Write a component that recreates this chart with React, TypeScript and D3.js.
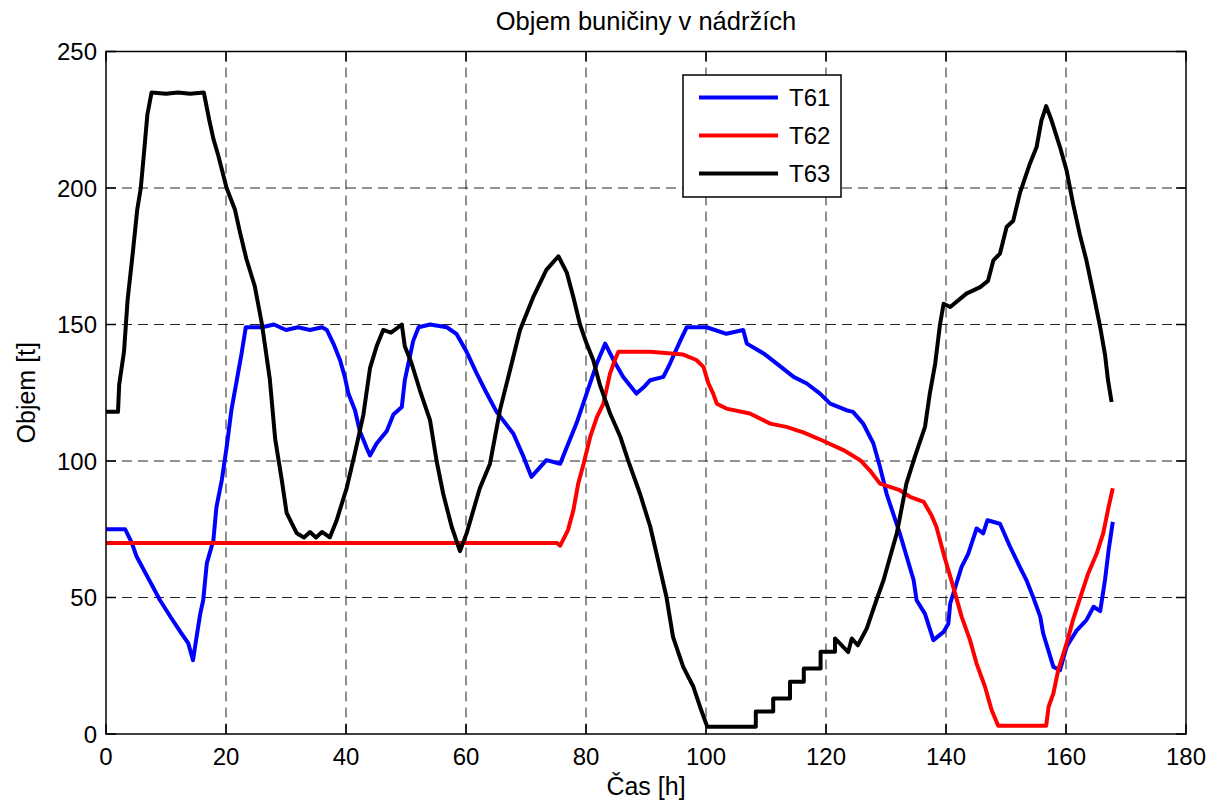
import React from "react";
import * as d3 from "d3";

// volume of pulp in tanks T61, T62, T63 over one week [h, t]
const t61: [number, number][] = [
  [0, 75], [3.2, 75], [4.3, 70], [5.1, 65], [7.3, 56], [9, 49], [10.9, 42.4], [12.6, 36.8],
  [13.7, 33.3], [14.5, 27], [15.1, 35.6], [15.7, 44], [16.2, 49], [16.8, 62.5], [17.9, 71],
  [18.4, 83], [19.3, 93], [20.1, 105], [20.9, 118.6], [21.8, 129.6], [22.6, 139.4], [23.3, 149],
  [26, 149], [28, 150], [30, 148], [32, 149], [34, 148], [36, 149], [36.8, 148], [37.9, 143],
  [39, 137], [39.8, 130.8], [40.4, 124.7], [41.5, 118.6], [42.3, 111], [43.4, 105], [44, 102],
  [45.1, 106.4], [46.8, 111], [47.9, 117], [49.3, 119.8], [49.8, 129.6], [50.4, 135.7],
  [51.2, 144], [52.1, 149], [54, 150], [56.8, 149], [58.4, 146.6], [60.1, 140], [61.8, 132],
  [63.4, 125], [65.1, 118], [67.9, 110], [69.6, 101.5], [70.9, 94.2], [73.4, 100.3], [75.7, 99],
  [76.8, 105], [78.4, 113.7], [80.1, 124.7], [81.8, 135.7], [83.2, 143], [84.6, 136.9],
  [86.2, 130.8], [88.4, 124.7], [89.6, 127], [90.7, 129.6], [92.9, 130.8], [94, 135.7],
  [95.7, 144], [96.8, 149], [100.1, 149], [103.4, 146.6], [106.2, 148], [106.8, 143],
  [109.6, 139.4], [111.8, 135.7], [114.6, 130.8], [116.8, 128.4], [119, 124.7], [120.7, 121],
  [123.4, 118.6], [124.5, 118], [126.2, 113.7], [127.9, 106.4], [129, 97.8], [130.1, 88],
  [131.2, 80.7], [132.3, 73.5], [134.6, 56.4], [135.1, 49], [136.5, 44], [137.9, 34.4],
  [139.6, 37.4], [140.4, 40.5], [140.7, 47.8], [142.6, 61.2], [143.7, 66], [145.1, 75.3],
  [146.2, 73.5], [146.9, 78.3], [149, 77], [150.7, 68.5], [152.3, 61.2], [153.4, 56.4],
  [154.5, 50.3], [155.7, 43], [156.2, 36.8], [157.9, 24.6], [159, 23.4], [160.1, 32],
  [161.8, 38], [163.4, 41.7], [164.6, 46.6], [165.7, 45], [166.5, 56.4], [167.1, 67.3],
  [167.8, 77.7],
];

const t62: [number, number][] = [
  [0, 70], [75.1, 70], [75.7, 69], [77, 74.7], [77.9, 82], [78.7, 91.7], [79.6, 99],
  [80.7, 108.8], [81.8, 116], [82.9, 121], [84, 132], [84.8, 136.9], [85.4, 140], [90.7, 140],
  [96.2, 139], [98.4, 137], [99.6, 134.4], [100.4, 128.4], [101.2, 124.7], [101.8, 121],
  [103.4, 119.2], [107.3, 117.4], [110.7, 113.7], [113.4, 112.5], [116.2, 110.5], [119.3, 107.6],
  [122.9, 104], [125.7, 100.3], [127.3, 96.6], [129, 91.7], [132.3, 89.3], [134, 86.9],
  [136.3, 85], [137.6, 80], [138.4, 75.9], [139.6, 66], [141.2, 54], [142.6, 43], [144, 34.4],
  [145.1, 25.8], [146.5, 17.3], [147.6, 8.8], [148.7, 3], [156.7, 3], [157.1, 10],
  [157.9, 14.9], [158.7, 23.4], [160.1, 33.2], [161.2, 42], [162.6, 51.5], [163.7, 58.8],
  [165.1, 66], [166.2, 73.5], [167.1, 83.2], [167.8, 90],
];

const t63: [number, number][] = [
  [0, 118], [2, 118], [2.2, 128], [3, 140], [3.6, 159], [4.5, 177], [5.2, 192], [5.8, 200],
  [6.5, 217], [6.9, 227], [7.6, 235], [10, 234.5], [12, 235], [14, 234.5], [16.3, 235],
  [17.2, 225], [17.9, 218], [18.7, 212], [20.1, 200], [21.5, 192], [22.3, 184], [23.4, 174],
  [24.8, 164], [26, 150], [27.3, 130], [28.2, 108], [29.3, 93], [30.1, 81], [31.8, 73.5],
  [33, 72], [34, 74], [35, 72], [36, 74], [37.3, 72], [38.4, 78], [40.1, 90], [41.5, 103],
  [42.9, 117], [44, 134], [45.1, 142], [46.2, 148], [47.5, 147], [48.7, 149], [49.3, 150],
  [49.8, 142], [50.9, 136], [52.3, 126], [54, 115], [55.1, 100], [56.2, 88], [57.6, 76],
  [59, 67], [60.1, 73.5], [62.3, 90], [64, 99], [65.7, 119], [67.3, 133], [69, 148],
  [71.2, 160], [73.4, 170], [75.4, 175], [76.8, 169], [77.9, 160], [79, 150], [80.1, 143],
  [81.2, 137], [82.3, 128], [84, 117.5], [85.7, 109], [87, 100.3], [89, 88], [90.7, 76],
  [91.5, 68.5], [93.4, 50.3], [94.5, 35.6], [96.2, 24.6], [97.9, 17.3], [99, 10], [100.2, 2.7],
  [108.3, 2.7], [108.3, 8.2], [111.2, 8.2], [111.2, 13], [114, 13], [114, 19.1], [116.3, 19.1],
  [116.3, 24], [119.1, 24], [119.1, 30.1], [121.5, 30.1], [121.5, 35], [123.7, 30],
  [124.3, 35], [125.3, 32.5], [126.8, 38.7], [128.4, 49], [129.6, 56.4], [130.7, 65],
  [131.8, 73.5], [133.4, 91.7], [134.8, 101.5], [136.5, 112.5], [137.3, 124.7], [138.2, 135.7],
  [139, 150], [139.6, 157.6], [140.7, 156.4], [143.4, 161.3], [145.7, 163.7], [147, 166],
  [147.9, 173.5], [149, 176], [150.1, 185.7], [151.2, 188], [152.3, 198], [154, 209],
  [155.1, 215], [155.9, 224.7], [156.7, 230], [157.6, 224.7], [159, 215], [160.1, 206.4],
  [161.2, 194], [162.3, 183], [163.4, 173.5], [164.6, 161], [165.7, 149], [166.5, 139],
  [167, 129.6], [167.6, 121.6],
];

const seriesNames = ["T61", "T62", "T63"];
const seriesColors = ["#0000ff", "#ff0000", "#000000"];
const xTicks = [0, 20, 40, 60, 80, 100, 120, 140, 160, 180];
const yTicks = [0, 50, 100, 150, 200, 250];

const W = 1218;
const H = 803;
const m = { left: 106, right: 1186, top: 51.5, bottom: 734 };
const font = "'Liberation Sans', Arial, sans-serif";

export default function App() {
  const x = d3.scaleLinear().domain([0, 180]).range([m.left, m.right]);
  const y = d3.scaleLinear().domain([0, 250]).range([m.bottom, m.top]);
  const line = d3
    .line<[number, number]>()
    .x((d) => x(d[0]))
    .y((d) => y(d[1]));
  const series = [t61, t62, t63];
  const tick = 10;

  return (
    <div style={{ position: "absolute", left: 0, top: 0 }}>
      <svg width={W} height={H} style={{ display: "block", background: "#fff" }} fontFamily={font}>
        <rect x={0} y={0} width={W} height={H} fill="#fff" />
        {/* grid */}
        <g stroke="#222" strokeWidth={1} strokeDasharray="10,6">
          {xTicks.slice(1, -1).map((t) => (
            <line key={"gx" + t} x1={x(t)} x2={x(t)} y1={m.top} y2={m.bottom} />
          ))}
          {yTicks.slice(1, -1).map((t) => (
            <line key={"gy" + t} x1={m.left} x2={m.right} y1={y(t)} y2={y(t)} />
          ))}
        </g>
        {/* data */}
        {series.map((s, i) => (
          <path
            key={seriesNames[i]}
            d={line(s) ?? ""}
            fill="none"
            stroke={seriesColors[i]}
            strokeWidth={4}
            strokeLinejoin="round"
          />
        ))}
        {/* box and ticks */}
        <g stroke="#000" strokeWidth={1.5}>
          <rect x={m.left} y={m.top} width={m.right - m.left} height={m.bottom - m.top} fill="none" />
          {xTicks.map((t) => (
            <g key={"tx" + t}>
              <line x1={x(t)} x2={x(t)} y1={m.bottom} y2={m.bottom - tick} />
              <line x1={x(t)} x2={x(t)} y1={m.top} y2={m.top + tick} />
            </g>
          ))}
          {yTicks.map((t) => (
            <g key={"ty" + t}>
              <line x1={m.left} x2={m.left + tick} y1={y(t)} y2={y(t)} />
              <line x1={m.right} x2={m.right - tick} y1={y(t)} y2={y(t)} />
            </g>
          ))}
        </g>
        <g fontSize={24} fill="#000">
          {xTicks.map((t) => (
            <text key={"lx" + t} x={x(t)} y={765} textAnchor="middle">
              {t}
            </text>
          ))}
          {yTicks.map((t) => (
            <text key={"ly" + t} x={97} y={y(t) + 8.6} textAnchor="end">
              {t}
            </text>
          ))}
          <text x={(m.left + m.right) / 2} y={795} textAnchor="middle" fontSize={25}>
            Čas [h]
          </text>
          <text transform={`translate(35, ${(m.top + m.bottom) / 2}) rotate(-90)`} textAnchor="middle" fontSize={25}>
            Objem [t]
          </text>
          <text x={(m.left + m.right) / 2} y={30} textAnchor="middle" fontSize={25.5}>
            Objem buničiny v nádržích
          </text>
        </g>
        {/* legend */}
        <g>
          <rect x={683} y={75} width={158} height={122} fill="#fff" stroke="#000" strokeWidth={1.5} />
          {seriesNames.map((n, i) => (
            <g key={"lg" + n}>
              <line x1={699} x2={778} y1={97.5 + i * 38} y2={97.5 + i * 38} stroke={seriesColors[i]} strokeWidth={4} />
              <text x={789} y={97.5 + i * 38 + 8.6} fontSize={24} fill="#000">
                {n}
              </text>
            </g>
          ))}
        </g>
      </svg>
    </div>
  );
}
